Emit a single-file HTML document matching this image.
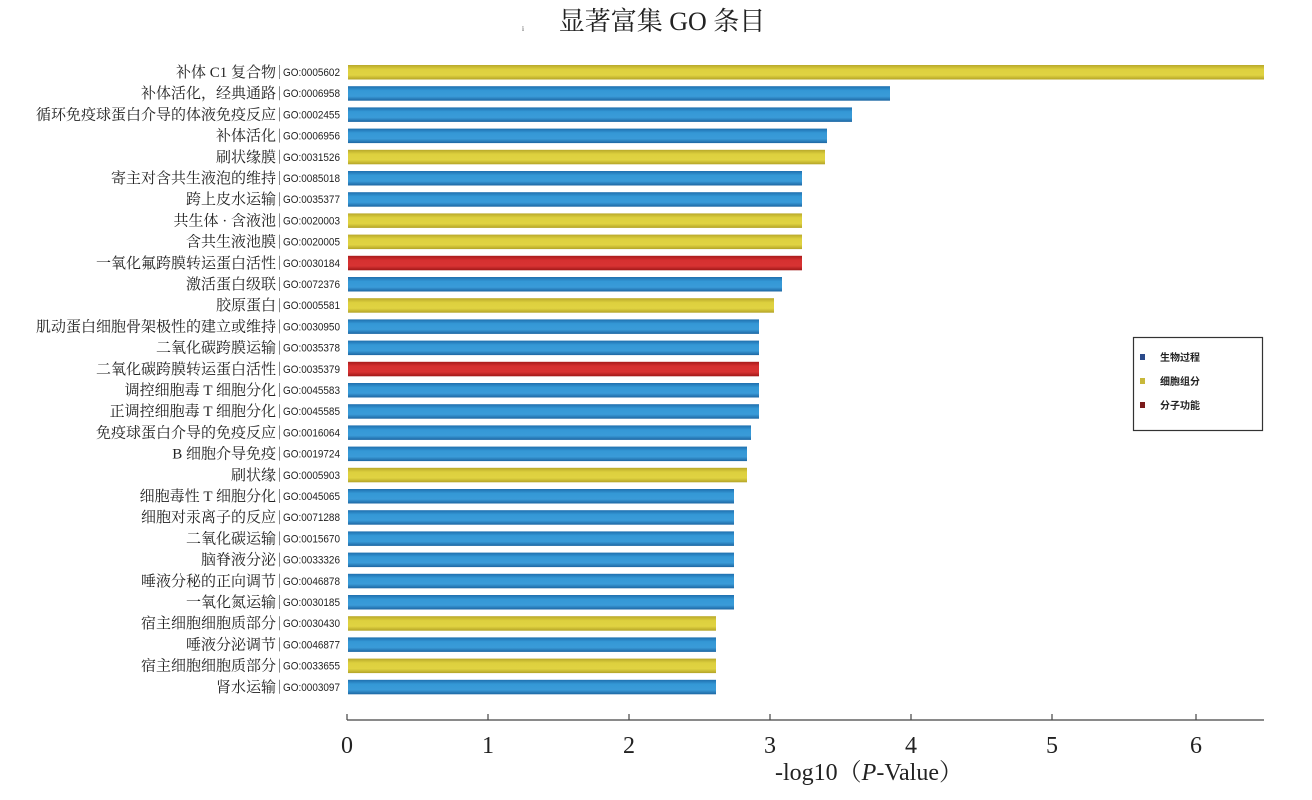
<!DOCTYPE html>
<html><head><meta charset="utf-8"><style>
body{margin:0;background:#fff}
</style></head><body>
<svg width="1312" height="795" xmlns="http://www.w3.org/2000/svg">
<defs>
<linearGradient id="b" x1="0" y1="0" x2="0" y2="1"><stop offset="0" stop-color="#1f6fae"/><stop offset="0.3" stop-color="#3498d6"/><stop offset="0.7" stop-color="#3a9bd8"/><stop offset="1" stop-color="#1d66a2"/></linearGradient>
<linearGradient id="y" x1="0" y1="0" x2="0" y2="1"><stop offset="0" stop-color="#b8a82a"/><stop offset="0.3" stop-color="#ddd03e"/><stop offset="0.7" stop-color="#e0d342"/><stop offset="1" stop-color="#b3a326"/></linearGradient>
<linearGradient id="r" x1="0" y1="0" x2="0" y2="1"><stop offset="0" stop-color="#a81a1a"/><stop offset="0.3" stop-color="#d63030"/><stop offset="0.7" stop-color="#d83333"/><stop offset="1" stop-color="#a01818"/></linearGradient>
</defs>
<text x="662" y="30" font-family="Liberation Serif,Noto Serif CJK SC,serif" font-size="26" text-anchor="middle" fill="#222">显著富集 GO 条目</text>
<text x="522" y="30" font-family="Liberation Serif,serif" font-size="12" fill="#444">ᵢ</text>
<g id="rows" font-family="Liberation Serif,Noto Serif CJK SC,serif" font-size="15" fill="#222"></g>
<g stroke="#444" stroke-width="1.2" fill="none">
<line x1="347" y1="720" x2="1264" y2="720"/>
</g>
<g id="ticks"></g>
<text x="869" y="780" font-family="Liberation Serif,Noto Serif CJK SC,serif" font-size="24" text-anchor="middle" fill="#222">-log10（<tspan font-style="italic">P</tspan>-Value）</text>
<rect x="1133.5" y="337.5" width="129" height="93" fill="#fff" stroke="#333" stroke-width="1.2"/>
<rect x="1140" y="354" width="5" height="6" fill="#2a4a8a"/>
<rect x="1140" y="378" width="5" height="6" fill="#c8b83a"/>
<rect x="1140" y="402" width="5" height="6" fill="#7a1a1a"/>
<g font-family="Noto Sans CJK SC,sans-serif" font-size="10" font-weight="bold" fill="#222">
<text x="1160" y="361">生物过程</text><text x="1160" y="385">细胞组分</text><text x="1160" y="409">分子功能</text>
</g>
</svg>
<script>
const d=[["补体 C1 复合物","GO:0005602","y",1264],["补体活化，经典通路","GO:0006958","b",890],["循环免疫球蛋白介导的体液免疫反应","GO:0002455","b",852],["补体活化","GO:0006956","b",827],["刷状缘膜","GO:0031526","y",825],["寄主对含共生液泡的维持","GO:0085018","b",802],["跨上皮水运输","GO:0035377","b",802],["共生体 · 含液池","GO:0020003","y",802],["含共生液池膜","GO:0020005","y",802],["一氧化氟跨膜转运蛋白活性","GO:0030184","r",802],["激活蛋白级联","GO:0072376","b",782],["胶原蛋白","GO:0005581","y",774],["肌动蛋白细胞骨架极性的建立或维持","GO:0030950","b",759],["二氧化碳跨膜运输","GO:0035378","b",759],["二氧化碳跨膜转运蛋白活性","GO:0035379","r",759],["调控细胞毒 T 细胞分化","GO:0045583","b",759],["正调控细胞毒 T 细胞分化","GO:0045585","b",759],["免疫球蛋白介导的免疫反应","GO:0016064","b",751],["B 细胞介导免疫","GO:0019724","b",747],["刷状缘","GO:0005903","y",747],["细胞毒性 T 细胞分化","GO:0045065","b",734],["细胞对汞离子的反应","GO:0071288","b",734],["二氧化碳运输","GO:0015670","b",734],["脑脊液分泌","GO:0033326","b",734],["唾液分秘的正向调节","GO:0046878","b",734],["一氧化氮运输","GO:0030185","b",734],["宿主细胞细胞质部分","GO:0030430","y",716],["唾液分泌调节","GO:0046877","b",716],["宿主细胞细胞质部分","GO:0033655","y",716],["肾水运输","GO:0003097","b",716]];
let h="";
d.forEach((r,i)=>{const c=72+21.2*i;
h+=`<text x="276" y="${c+5}" text-anchor="end">${r[0]}</text>`;
h+=`<line x1="279.5" y1="${c-7}" x2="279.5" y2="${c+7}" stroke="#888" stroke-width="1"/>`;
h+=`<text x="283" y="${c+4}" font-family="Liberation Sans,sans-serif" font-size="11" textLength="57" lengthAdjust="spacingAndGlyphs">${r[1]}</text>`;
h+=`<rect x="348" y="${c-7}" width="${r[3]-348}" height="14.5" fill="url(#${r[2]})"/>`;});
document.getElementById("rows").innerHTML=h;
let t="";const xs=[347,488,629,770,911,1052,1196];
xs.forEach((x,i)=>{t+=`<line x1="${x}" y1="714" x2="${x}" y2="720" stroke="#444" stroke-width="1.2"/><text x="${x}" y="753" font-family="Liberation Serif,serif" font-size="24" text-anchor="middle" fill="#222">${i}</text>`;});
document.getElementById("ticks").innerHTML=t;
</script>
</body></html>
